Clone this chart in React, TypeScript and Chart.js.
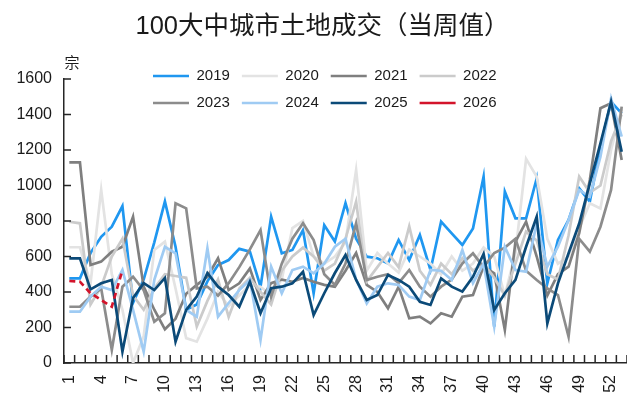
import React, { useEffect, useRef } from 'react';
import { Chart, registerables } from 'chart.js';

Chart.register(...registerables);

// ---------- data ----------
const weeks = ['1','2','3','4','5','6','7','8','9','10','11','12','13','14','15','16','17','18','19','20','21','22','23','24','25','26','27','28','29','30','31','32','33','34','35','36','37','38','39','40','41','42','43','44','45','46','47','48','49','50','51','52','53'];
const shownWeekTicks = ['1','4','7','10','13','16','19','22','25','28','31','34','37','40','43','46','49','52'];
const yTickValues = [0, 200, 400, 600, 800, 1000, 1200, 1400, 1600];

const years = ['2019', '2020', '2021', '2022', '2023', '2024', '2025', '2026'];

const s2019 = [477,477,620,711,768,884,340,470,680,910,655,300,330,460,552,580,643,627,430,824,618,637,749,393,776,684,900,700,599,590,561,693,580,721,524,796,730,665,758,1050,205,965,815,815,1040,449,693,806,984,909,1219,1472,1406];
const s2020 = [652,652,450,975,500,300,0,150,637,684,420,140,120,250,400,320,380,440,430,380,470,760,800,600,560,600,680,1087,520,620,560,510,640,600,560,500,600,520,560,650,600,380,620,1150,1050,700,560,600,760,900,870,1200,1430];
const s2021 = [1130,1130,552,571,627,655,824,430,300,190,250,390,440,486,590,411,449,533,355,450,470,458,479,458,440,430,520,620,440,400,308,430,252,261,223,280,261,374,383,543,505,186,684,796,600,380,500,543,732,1031,1435,1463,1144];
const s2022 = [796,787,330,430,600,700,380,300,420,500,490,480,205,350,470,260,420,480,400,330,520,600,650,600,520,560,700,909,460,540,620,540,770,520,440,560,500,590,520,560,480,380,560,740,690,500,470,720,1050,960,1000,1250,1400];
const s2023 = [317,317,374,420,73,430,486,411,233,280,900,871,420,430,380,450,540,640,749,374,560,700,787,693,500,440,560,788,468,486,500,450,524,430,374,430,470,561,618,540,620,650,700,520,468,420,383,148,700,627,768,975,1444];
const s2024 = [289,289,374,430,411,524,299,64,468,655,618,299,261,646,261,338,411,468,130,543,393,524,543,505,560,655,700,470,336,430,449,440,374,355,524,520,468,637,450,560,205,655,524,514,786,543,655,806,975,937,1162,1490,1275];
const s2025 = [590,590,415,449,468,64,366,450,411,479,120,299,374,507,430,383,317,458,280,421,430,449,514,270,393,507,608,468,355,383,496,468,430,345,327,477,430,402,486,615,299,393,468,655,824,223,449,618,786,1012,1237,1472,1190];
const s2026 = [462,458,393,355,317,524];

const seriesValues = [s2019, s2020, s2021, s2022, s2023, s2024, s2025, s2026];

// ---------- styles ----------
const lineColors = ['#1f97f0', '#e3e3e3', '#7f7f7f', '#cbcbcb', '#8c8c8c', '#9fcbf3', '#0b4a78', '#d3142b'];
const textColor = '#1a1a1a';
const axisColor = '#262626';
const numFont = "'Liberation Sans', Arial, 'Noto Sans CJK SC', sans-serif";
const cjkFont = "'Liberation Sans', 'Noto Sans CJK SC', sans-serif";

export default function App() {
  const ref = useRef<HTMLCanvasElement | null>(null);

  useEffect(() => {
    document.body.style.margin = '0';
    const canvas = ref.current;
    if (!canvas) return;

    const legendBox = { left: 141, right: 550, top: 56.5, bottom: 142 };
    const reservedLegendHeight = 36.4;
    const titleShift = 9;

    const legendPlacement = {
      id: 'legendPlacement',
      afterInit(chart: any) {
        const lg = chart.legend;
        if (!lg || lg._patched) return;
        const orig = lg.fit;
        lg.fit = function () {
          const mw = this.maxWidth;
          this.maxWidth = 410;
          orig.call(this);
          this.maxWidth = mw;
          this.width = mw;
          this.height = reservedLegendHeight;
        };
        lg._patched = true;
      },
      afterLayout(chart: any) {
        const lg = chart.legend;
        if (lg) {
          lg.left = legendBox.left;
          lg.right = legendBox.right;
          lg.top = legendBox.top;
          lg.bottom = legendBox.bottom;
          lg.width = legendBox.right - legendBox.left;
          lg.height = legendBox.bottom - legendBox.top;
        }
        const tb = chart.titleBlock;
        if (tb) {
          tb.left += titleShift;
          tb.right += titleShift;
        }
      },
    };

    const inwardTicks = {
      id: 'inwardTicks',
      afterDraw(chart: any) {
        const { ctx, chartArea, scales } = chart;
        const xs = scales.x;
        const ys = scales.y;
        ctx.save();
        ctx.strokeStyle = axisColor;
        ctx.lineWidth = 1.5;
        ctx.beginPath();
        const n = weeks.length;
        const half = (xs.getPixelForValue(1) - xs.getPixelForValue(0)) / 2;
        for (let i = 0; i <= n; i++) {
          const px = i < n ? xs.getPixelForValue(i) - half : xs.getPixelForValue(n - 1) + half;
          ctx.moveTo(px, chartArea.bottom);
          ctx.lineTo(px, chartArea.bottom - 8);
        }
        ys.ticks.forEach((t: any) => {
          const py = ys.getPixelForValue(t.value);
          ctx.moveTo(chartArea.left, py);
          ctx.lineTo(chartArea.left + 7, py);
        });
        ctx.stroke();
        ctx.fillStyle = textColor;
        ctx.font = "15px 'Noto Sans CJK SC', sans-serif";
        ctx.textAlign = 'center';
        ctx.textBaseline = 'middle';
        ctx.fillText('宗', chartArea.left + 8, chartArea.top - 17);
        ctx.restore();
      },
    };

    const datasets = years.map((yr, i) => ({
      label: yr,
      data: seriesValues[i],
      borderColor: lineColors[i],
      backgroundColor: lineColors[i],
      borderWidth: 2.7,
      borderDash: yr === '2026' ? [6, 4] : [],
      pointRadius: 0,
      pointHoverRadius: 0,
      tension: 0,
      fill: false,
      order: years.length - 1 - i,
    }));

    const chart = new Chart(canvas, {
      type: 'line',
      data: { labels: weeks, datasets },
      options: {
        animation: false,
        responsive: false,
        devicePixelRatio: 1,
        events: [],
        layout: { padding: 0 },
        plugins: {
          title: {
            display: true,
            text: '100大中城市土地成交（当周值）',
            color: textColor,
            font: { family: cjkFont, size: 25.5, weight: 'normal' },
            padding: { top: 12, bottom: 0 },
          },
          legend: {
            display: true,
            position: 'top',
            align: 'start',
            labels: {
              usePointStyle: true,
              pointStyle: 'line',
              pointStyleWidth: 36,
              color: textColor,
              font: { family: numFont, size: 15 },
              padding: 12,
              sort: (a: any, b: any) => a.datasetIndex - b.datasetIndex,
            },
          },
          tooltip: { enabled: false },
        },
        scales: {
          x: {
            type: 'category',
            offset: true,
            grid: { display: false, drawTicks: false },
            border: { display: true, color: axisColor, width: 1.5 },
            ticks: {
              autoSkip: false,
              minRotation: 90,
              maxRotation: 90,
              padding: 12,
              color: textColor,
              font: { family: numFont, size: 16 },
              callback: (_v: any, idx: number) => (shownWeekTicks.includes(weeks[idx]) ? weeks[idx] : ''),
            },
            afterFit: (scale: any) => {
              scale.height = 46;
              scale.paddingLeft = 0;
              scale.paddingRight = 0;
            },
          },
          y: {
            min: 0,
            max: 1600,
            grid: { display: false, drawTicks: false },
            border: { display: true, color: axisColor, width: 1.5 },
            afterBuildTicks: (scale: any) => {
              scale.ticks = yTickValues.map((v) => ({ value: v }));
            },
            ticks: {
              padding: 12,
              color: textColor,
              font: { family: numFont, size: 16 },
              callback: (v: any) => String(v),
            },
            afterFit: (scale: any) => {
              scale.width = 64;
            },
          },
        },
      },
      plugins: [legendPlacement, inwardTicks],
    } as any);

    return () => chart.destroy();
  }, []);

  return <canvas ref={ref} width={627} height={409} style={{ display: 'block' }} />;
}
